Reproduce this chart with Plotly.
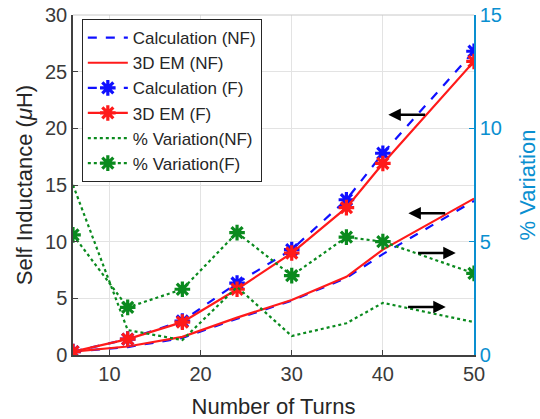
import plotly.graph_objects as go

# Number of turns at which the coil was evaluated
turns = [6, 12, 18, 24, 30, 36, 40, 50]

# Self inductance (uH), no ferrite (NF) and with ferrite (F)
calc_nf = [0.3, 0.7, 1.5, 3.2, 4.8, 6.8, 8.9, 13.6]
em_nf = [0.3, 0.75, 1.6, 3.3, 4.85, 6.9, 9.3, 13.8]
calc_f = [0.3, 1.4, 3.0, 6.35, 9.3, 13.7, 17.8, 26.8]
em_f = [0.3, 1.4, 2.9, 5.8, 9.0, 13.0, 16.9, 25.9]

# Percentage difference between calculation and 3D EM
var_nf = [7.5, 1.1, 0.66, 3.0, 0.84, 1.4, 2.3, 1.45]
var_f = [5.3, 2.1, 2.9, 5.4, 3.5, 5.2, 5.0, 3.6]

FONT = "Arial, Liberation Sans, sans-serif"
RIGHT_COLOR = "#0a8fd0"
BLUE = "#1010ff"
RED = "#ff1a1a"
GREEN = "#0a8a1e"

fig = go.Figure()

fig.add_trace(go.Scatter(x=turns, y=calc_nf, name="Calculation (NF)", mode="lines",
                         line=dict(color=BLUE, width=2.2, dash="dash")))
fig.add_trace(go.Scatter(x=turns, y=em_nf, name="3D EM (NF)", mode="lines",
                         line=dict(color=RED, width=2.2)))
fig.add_trace(go.Scatter(x=turns, y=calc_f, name="Calculation (F)", mode="lines+markers",
                         line=dict(color=BLUE, width=2.2, dash="dash"),
                         marker=dict(symbol="asterisk-open", size=13,
                                     line=dict(color=BLUE, width=3.2))))
fig.add_trace(go.Scatter(x=turns, y=em_f, name="3D EM (F)", mode="lines+markers",
                         line=dict(color=RED, width=2.2),
                         marker=dict(symbol="asterisk-open", size=13,
                                     line=dict(color=RED, width=3.2))))
fig.add_trace(go.Scatter(x=turns, y=var_nf, name="% Variation(NF)", mode="lines",
                         yaxis="y2", line=dict(color=GREEN, width=2.2, dash="dot")))
fig.add_trace(go.Scatter(x=turns, y=var_f, name="% Variation(F)", mode="lines+markers",
                         yaxis="y2", line=dict(color=GREEN, width=2.2, dash="dot"),
                         marker=dict(symbol="asterisk-open", size=13,
                                     line=dict(color=GREEN, width=3.2))))

# Arrows indicating which axis each group of curves belongs to
arrows = [
    ((44.8, 21.2), (40.6, 21.2)),
    ((47.0, 12.5), (42.8, 12.5)),
    ((43.7, 9.0), (48.0, 9.0)),
    ((42.6, 4.24), (46.9, 4.24)),
]
for (tx, ty), (hx, hy) in arrows:
    fig.add_annotation(x=hx, y=hy, ax=tx, ay=ty, xref="x", yref="y",
                       axref="x", ayref="y", text="", showarrow=True,
                       arrowhead=2, arrowsize=1, arrowwidth=2.5, arrowcolor="black")

# Top border of the axes box
fig.add_shape(type="line", xref="paper", yref="paper", x0=0, x1=1, y0=1, y1=1,
              line=dict(color="#c8c8c8", width=1))

fig.update_layout(
    width=540, height=419,
    margin=dict(l=73, r=66, t=15, b=64),
    paper_bgcolor="white", plot_bgcolor="white",
    font=dict(family=FONT, size=20, color="#262626"),
    showlegend=True,
    legend=dict(x=0.022, y=0.988, xanchor="left", yanchor="top",
                bgcolor="white", bordercolor="#262626", borderwidth=1,
                font=dict(family=FONT, size=17, color="#262626"),
                tracegroupgap=0, itemwidth=40),
    xaxis=dict(range=[6, 50], tickvals=[10, 20, 30, 40, 50], automargin=False,
               showgrid=True, gridcolor="#e3e3e3", gridwidth=1,
               showline=True, linecolor="#404040", linewidth=1.5,
               ticks="inside", ticklen=5, tickcolor="#404040",
               zeroline=False,
               title=dict(text="Number of Turns", font=dict(size=22), standoff=16),
               tickfont=dict(size=20, color="#3a3a3a")),
    yaxis=dict(range=[0, 30], tickvals=[0, 5, 10, 15, 20, 25, 30], automargin=False,
               showgrid=True, gridcolor="#e3e3e3", gridwidth=1,
               showline=True, linecolor="#404040", linewidth=1.5,
               ticks="inside", ticklen=5, tickcolor="#404040",
               zeroline=False,
               title=dict(text="Self Inductance (<i>μ</i>H)", font=dict(size=22), standoff=6),
               tickfont=dict(size=20, color="#3a3a3a")),
    yaxis2=dict(range=[0, 15], tickvals=[0, 5, 10, 15], overlaying="y", side="right",
                automargin=False,
                showgrid=False, showline=True, linecolor=RIGHT_COLOR, linewidth=1.5,
                ticks="inside", ticklen=5, tickcolor=RIGHT_COLOR,
                zeroline=False,
                title=dict(text="% Variation", font=dict(size=22, color=RIGHT_COLOR), standoff=20),
                tickfont=dict(size=20, color=RIGHT_COLOR)),
)

fig.write_html("out.html")
